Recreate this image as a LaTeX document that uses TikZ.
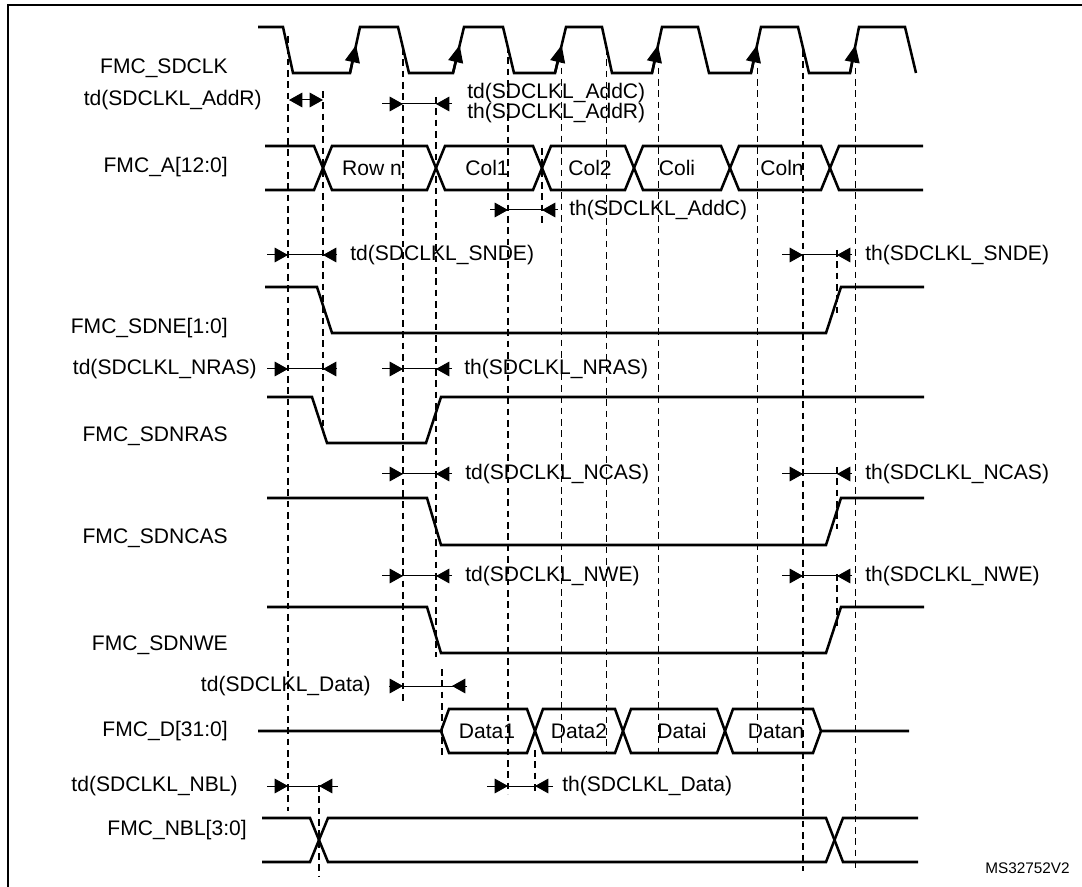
\documentclass[tikz,border=0pt]{standalone}
\usepackage{fontspec}
\setmainfont{Liberation Sans}
\usetikzlibrary{arrows.meta}

\begin{document}
\begin{tikzpicture}[x=0.75pt, y=-0.75pt,
    sig/.style={line width=1.9pt},
    guide/.style={line width=0.9pt, dash pattern=on 5pt off 3.5pt},
    dimline/.style={line width=0.75pt, >={Triangle[length=10pt,width=11pt]}},
    clkedge/.style={line width=1.9pt, -{Triangle[length=13pt,width=11pt]}},
    lbl/.style={inner sep=0pt, font=\fontsize{15.8}{18}\selectfont}]
    \useasboundingbox (0,0) rectangle (1082,887);
    % Frame
    \draw[line width=2.2pt] (8,887) -- (8,5) -- (1082,5);

    % Signal names
    \node[lbl, anchor=east] (n_clk) at (228,68) {FMC\_SDCLK};
    \node[lbl, anchor=east] (n_addr) at (228,167) {FMC\_A[12:0]};
    \node[lbl, anchor=east] (n_sdne) at (228,328) {FMC\_SDNE[1:0]};
    \node[lbl, anchor=east] (n_nras) at (228,436) {FMC\_SDNRAS};
    \node[lbl, anchor=east] (n_ncas) at (228,538) {FMC\_SDNCAS};
    \node[lbl, anchor=east] (n_nwe) at (228,645) {FMC\_SDNWE};
    \node[lbl, anchor=east] (n_data) at (228,731) {FMC\_D[31:0]};
    \node[lbl, anchor=east] (n_nbl) at (247,830) {FMC\_NBL[3:0]};

    % Clock
    \draw[sig] (258,27) -- (283,27) -- (293,73) -- (350,73) -- (360,27) -- (398,27) -- (409,73)
        -- (453,73) -- (464,27) -- (503,27) -- (514,73) -- (555,73) -- (566,27) -- (602,27)
        -- (612,73) -- (652,73) -- (662,27) -- (698,27) -- (709,73) -- (751,73) -- (761,27)
        -- (798,27) -- (809,73) -- (850,73) -- (859,27) -- (905,27) -- (916,73);
    % Rising edge marks
    \draw[clkedge] (350,73) -- (356.1,45);
    \draw[clkedge] (453,73) -- (459.7,45);
    \draw[clkedge] (555,73) -- (561.7,45);
    \draw[clkedge] (652,73) -- (658.1,45);
    \draw[clkedge] (751,73) -- (757.1,45);
    \draw[clkedge] (850,73) -- (855.5,45);

    % Guide lines
    \draw[guide] (288,36) -- (288,811);
    \draw[guide] (323,91) -- (323,432);
    \draw[guide] (403,48) -- (403,703);
    \draw[guide] (436,97) -- (436,657);
    \draw[guide] (508,46) -- (508,794);
    \draw[guide] (542,148) -- (542,225);
    \draw[guide] (561.7,45) -- (561.7,753);
    \draw[guide] (606.7,48) -- (606.7,753);
    \draw[guide] (658.5,45) -- (658.5,753);
    \draw[guide] (757.5,45) -- (757.5,753);
    \draw[guide] (803,50) -- (803,871);
    \draw[guide] (855.5,45) -- (855.5,871);
    \draw[guide] (837,250) -- (837,317);
    \draw[guide] (837,467) -- (837,529);
    \draw[guide] (837,574) -- (837,629);
    \draw[guide] (442,669) -- (442,757);
    \draw[guide] (535,750) -- (535,794);
    \draw[guide] (319,785) -- (319,876);

    % Address bus
    \draw[sig] (265,146) -- (314,146) -- (332,190) -- (427,190) -- (445,146) -- (533,146) -- (551,190)
        -- (625,190) -- (643,146) -- (721,146) -- (739,190) -- (821,190) -- (839,146) -- (923,146);
    \draw[sig] (265,190) -- (314,190) -- (332,146) -- (427,146) -- (445,190) -- (533,190) -- (551,146)
        -- (625,146) -- (643,190) -- (721,190) -- (739,146) -- (821,146) -- (839,190) -- (923,190);
    \node[lbl] (rown) at (372,168) {Row n};
    \node[lbl] (col1) at (487,168) {Col1};
    \node[lbl] (col2) at (590,168) {Col2};
    \node[lbl] (coli) at (677,168) {Coli};
    \node[lbl] (coln) at (782,168) {Coln};

    % td(SDCLKL_AddR)
    \node[lbl, anchor=east] (t_addr) at (262,100) {td(SDCLKL\_AddR)};
    \draw[dimline,<->] (289,100) -- (323,100);
    % td(SDCLKL_AddC), th(SDCLKL_AddR)
    \draw[dimline] (382,104) -- (452,104);
    \draw[dimline,->] (382,104) -- (403,104);
    \draw[dimline,->] (452,104) -- (436,104);
    \node[lbl, anchor=west] (t_addc) at (467,93) {td(SDCLKL\_AddC)};
    \node[lbl, anchor=west] (t_addrh) at (467,113) {th(SDCLKL\_AddR)};
    % th(SDCLKL_AddC)
    \draw[dimline] (490,210) -- (558,210);
    \draw[dimline,->] (490,210) -- (508,210);
    \draw[dimline,->] (558,210) -- (542,210);
    \node[lbl, anchor=west] (t_addch) at (569,210) {th(SDCLKL\_AddC)};

    % Chip enable
    \draw[dimline] (267,255) -- (337,255);
    \draw[dimline,->] (267,255) -- (288,255);
    \draw[dimline,->] (337,255) -- (323,255);
    \node[lbl, anchor=west] (t_sdne) at (350,255) {td(SDCLKL\_SNDE)};
    \draw[dimline] (782,255) -- (852,255);
    \draw[dimline,->] (782,255) -- (803,255);
    \draw[dimline,->] (852,255) -- (837,255);
    \node[lbl, anchor=west] (t_sdneh) at (865,255) {th(SDCLKL\_SNDE)};
    \draw[sig] (265,287) -- (317,287) -- (332,333) -- (826,333) -- (841,287) -- (924,287);

    % Row strobe
    \node[lbl, anchor=east] (t_nras) at (257,369) {td(SDCLKL\_NRAS)};
    \draw[dimline] (267,369) -- (337,369);
    \draw[dimline,->] (267,369) -- (288,369);
    \draw[dimline,->] (337,369) -- (323,369);
    \draw[dimline] (382,369) -- (452,369);
    \draw[dimline,->] (382,369) -- (403,369);
    \draw[dimline,->] (452,369) -- (436,369);
    \node[lbl, anchor=west] (t_nrash) at (464,369) {th(SDCLKL\_NRAS)};
    \draw[sig] (267,397) -- (312,397) -- (327,443) -- (426,443) -- (441,397) -- (924,397);

    % Column strobe
    \draw[dimline] (382,474) -- (452,474);
    \draw[dimline,->] (382,474) -- (403,474);
    \draw[dimline,->] (452,474) -- (436,474);
    \node[lbl, anchor=west] (t_ncas) at (465,474) {td(SDCLKL\_NCAS)};
    \draw[dimline] (782,474) -- (852,474);
    \draw[dimline,->] (782,474) -- (803,474);
    \draw[dimline,->] (852,474) -- (837,474);
    \node[lbl, anchor=west] (t_ncash) at (865,474) {th(SDCLKL\_NCAS)};
    \draw[sig] (267,498) -- (427,498) -- (441,545) -- (826,545) -- (841,498) -- (924,498);

    % Write enable
    \draw[dimline] (382,576) -- (452,576);
    \draw[dimline,->] (382,576) -- (403,576);
    \draw[dimline,->] (452,576) -- (436,576);
    \node[lbl, anchor=west] (t_nwe) at (465,576) {td(SDCLKL\_NWE)};
    \draw[dimline] (782,576) -- (852,576);
    \draw[dimline,->] (782,576) -- (803,576);
    \draw[dimline,->] (852,576) -- (837,576);
    \node[lbl, anchor=west] (t_nweh) at (865,576) {th(SDCLKL\_NWE)};
    \draw[sig] (267,607) -- (427,607) -- (441,653) -- (826,653) -- (841,607) -- (924,607);

    % Data bus
    \node[lbl, anchor=east] (t_data) at (371,686) {td(SDCLKL\_Data)};
    \draw[dimline] (389,686) -- (467,686);
    \draw[dimline,->] (389,686) -- (403,686);
    \draw[dimline,->] (467,686) -- (452,686);
    \draw[sig] (258,731) -- (441,731) -- (449,709) -- (527,709) -- (543,753) -- (615,753) -- (631,709)
        -- (717,709) -- (733,753) -- (813,753) -- (821,731) -- (909,731);
    \draw[sig] (441,731) -- (449,753) -- (527,753) -- (543,709) -- (615,709) -- (631,753)
        -- (717,753) -- (733,709) -- (813,709) -- (821,731);
    \node[lbl] (data1) at (487,731) {Data1};
    \node[lbl] (data2) at (579,731) {Data2};
    \node[lbl] (datai) at (682,731) {Datai};
    \node[lbl] (datan) at (776,731) {Datan};
    \draw[dimline] (487,786) -- (553,786);
    \draw[dimline,->] (487,786) -- (508,786);
    \draw[dimline,->] (553,786) -- (535,786);
    \node[lbl, anchor=west] (t_datah) at (562,786) {th(SDCLKL\_Data)};

    % Byte lanes
    \node[lbl, anchor=east] (t_nbl) at (238,786) {td(SDCLKL\_NBL)};
    \draw[dimline] (267,786) -- (338,786);
    \draw[dimline,->] (267,786) -- (288,786);
    \draw[dimline,->] (338,786) -- (319,786);
    \draw[sig] (262,818) -- (310,818) -- (328,862) -- (826,862) -- (843,818) -- (918,818);
    \draw[sig] (262,862) -- (310,862) -- (328,818) -- (826,818) -- (843,862) -- (918,862);

    \node[inner sep=0pt, anchor=east, font=\fontsize{11.5}{13}\selectfont] (ref) at (1070,868) {MS32752V2};
\end{tikzpicture}
\end{document}
